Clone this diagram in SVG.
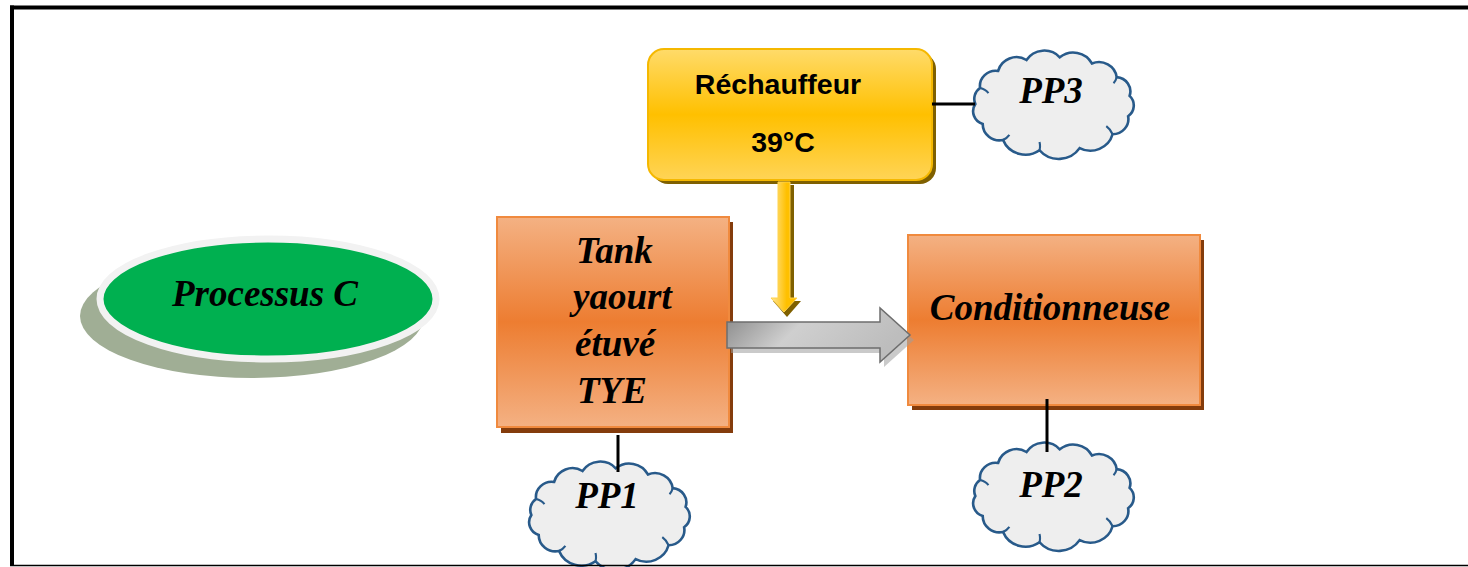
<svg xmlns="http://www.w3.org/2000/svg" width="1468" height="567" viewBox="0 0 1468 567">
<style>
.lbl{font-family:"Liberation Serif","Times New Roman",serif;font-weight:bold;font-style:italic;font-size:37px;fill:#000}
.sans{font-family:"Liberation Sans",Arial,sans-serif;font-weight:bold;font-size:28.5px;fill:#000}
.cloud{fill:#EEEEEE;stroke:#285A8A;stroke-width:2.5}
.inner{fill:none;stroke:#285A8A;stroke-width:2}
.conn{stroke:#000;stroke-width:3;fill:none}
.orange{fill:url(#gOrange);stroke:#F08A3E;stroke-width:2}
.oshadow{fill:#843C0C}
</style>
<defs>
<linearGradient id="gOrange" x1="0" y1="0" x2="0" y2="1">
<stop offset="0" stop-color="#F4B183"/>
<stop offset="0.5" stop-color="#ED7D31"/>
<stop offset="1" stop-color="#F4B183"/>
</linearGradient>
<linearGradient id="gYellow" x1="0" y1="0" x2="0" y2="1">
<stop offset="0" stop-color="#FFDB6A"/>
<stop offset="0.5" stop-color="#FFC000"/>
<stop offset="1" stop-color="#FFD456"/>
</linearGradient>
<linearGradient id="gYArrow" x1="0" y1="0" x2="1" y2="0">
<stop offset="0" stop-color="#FFE699"/>
<stop offset="0.6" stop-color="#FFC000"/>
<stop offset="1" stop-color="#FFC000"/>
</linearGradient>
<linearGradient id="gGray" x1="0" y1="0" x2="1" y2="0.3">
<stop offset="0" stop-color="#858585"/>
<stop offset="0.45" stop-color="#CFCFCF"/>
<stop offset="1" stop-color="#BDBDBD"/>
</linearGradient>
<path id="cloudShape" d="M7,53 A13,13 0 0 1 11.5,37.3 A15,15 0 0 1 28.7,20.5 A18,18 0 0 1 55.7,9.8 A20,20 0 0 1 87.4,7.2 A20,20 0 0 1 118,13.2 A17,17 0 0 1 141.6,26.6 A14,14 0 0 1 153.9,45 A13,13 0 0 1 152.5,64.9 A15,15 0 0 1 137.7,82.6 A22,22 0 0 1 106.3,96.2 A24,24 0 0 1 68.1,98.3 A23,23 0 0 1 33.4,88.2 A16,16 0 0 1 14,72.5 A13,13 0 0 1 7,53 Z"/>
<path id="cloudInner" d="M11.5,37.3 q5,1 8,5 M137.7,82.6 q-2,-5 -6,-8 M68.1,98.3 q1,-4 0,-8 M33.4,88.2 q4,-2 6,-5 M141.6,26.6 q-1,4 -3,6"/>
</defs>

<rect x="0" y="0" width="1468" height="567" fill="#FFFFFF"/>

<g id="processus">
<ellipse cx="252" cy="316" rx="172" ry="62" fill="#A0AE95"/>
<ellipse cx="268" cy="299" rx="168" ry="60" fill="#00B050" stroke="#F2F2F2" stroke-width="7"/>
<text class="lbl" x="265" y="306" text-anchor="middle">Processus C</text>
</g>

<g id="rechauffeur">
<rect x="652" y="53" width="284" height="131" rx="16" fill="#7F6000"/>
<rect x="648" y="49" width="284" height="131" rx="16" fill="url(#gYellow)" stroke="#F5B800" stroke-width="2"/>
<text class="sans" x="778" y="94" text-anchor="middle">Réchauffeur</text>
<text class="sans" x="783" y="152" text-anchor="middle">39°C</text>
</g>

<g id="tank">
<rect class="oshadow" x="501" y="222" width="232" height="211"/>
<rect class="orange" x="497" y="217" width="232" height="210"/>
<text class="lbl" x="576" y="263">Tank</text>
<text class="lbl" x="573" y="309">yaourt</text>
<text class="lbl" x="575" y="356">étuvé</text>
<text class="lbl" x="577" y="403">TYE</text>
</g>

<g id="conditionneuse">
<rect class="oshadow" x="912" y="240" width="292" height="170"/>
<rect class="orange" x="908" y="235" width="292" height="170"/>
<text class="lbl" x="1050" y="320" text-anchor="middle">Conditionneuse</text>
</g>

<g id="pp3">
<g transform="translate(968,50) scale(1.05,1.02)">
<use href="#cloudShape" class="cloud"/>
<use href="#cloudInner" class="inner"/>
</g>
<text class="lbl" x="1051" y="103" text-anchor="middle">PP3</text>
</g>

<g id="pp2">
<g transform="translate(968,442) scale(1.05,1.02)">
<use href="#cloudShape" class="cloud"/>
<use href="#cloudInner" class="inner"/>
</g>
<text class="lbl" x="1051" y="497" text-anchor="middle">PP2</text>
</g>

<g id="pp1">
<g transform="translate(524,461) scale(1.05,1.02)">
<use href="#cloudShape" class="cloud"/>
<use href="#cloudInner" class="inner"/>
</g>
<text class="lbl" x="607" y="508" text-anchor="middle">PP1</text>
</g>

<g id="connectors">
<path d="M782,185 h12 v116 h7 l-14,16 l-14,-16 h9 z" fill="#7F6000"/>
<path d="M778,182 h12 v116 h7 l-13,14 l-13,-14 h7 z" fill="url(#gYArrow)" stroke="#FFD24D" stroke-width="1"/>
<path d="M731,327 h153 v-14 l30,27 l-30,27 v-14 h-153 z" fill="#9E9E9E" opacity="0.55"/>
<path d="M727,322 h153 v-14 l30,27 l-30,27 v-14 h-153 z" fill="url(#gGray)" stroke="#6E6E6E" stroke-width="1.5"/>
<line class="conn" x1="932" y1="104" x2="975" y2="104"/>
<line class="conn" x1="618" y1="435" x2="618" y2="472"/>
<line class="conn" x1="1047" y1="399" x2="1047" y2="452"/>
</g>

<g id="frame">
<line x1="10" y1="7.5" x2="1468" y2="7.5" stroke="#000" stroke-width="4"/>
<line x1="12" y1="5.5" x2="12" y2="566" stroke="#000" stroke-width="4"/>
<line x1="10" y1="565.5" x2="1468" y2="565.5" stroke="#000" stroke-width="1.5"/>
</g>
</svg>
